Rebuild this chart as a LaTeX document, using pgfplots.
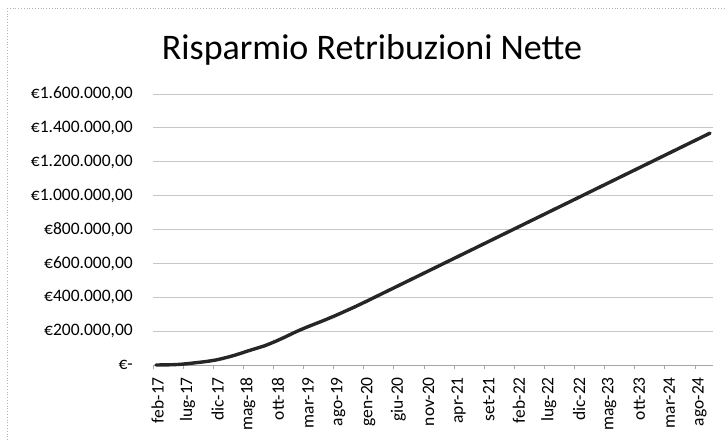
\documentclass[border=0pt]{standalone}
\usepackage{fontspec}
\setmainfont{Carlito}
\usepackage{pgfplots}
\pgfplotsset{compat=1.18}
\begin{document}
\begin{tikzpicture}[x=1pt,y=1pt]
\useasboundingbox (0,0) rectangle (726,440);
\draw[gray!60, line width=0.8pt, dotted] (7,432) -- (726,432);
\draw[gray!60, line width=0.8pt, dotted] (7,0) -- (7,432);
\node[anchor=base, font=\fontsize{36}{40}\selectfont] at (372,380) {Risparmio Retribuzioni Nette};
\begin{axis}[
  at={(153pt,75pt)}, anchor=south west,
  scale only axis, width=560pt, height=271pt,
  xmin=-0.5, xmax=92.5, ymin=0, ymax=1600000,
  axis x line*=bottom, axis y line*=left,
  y axis line style={draw=none},
  x axis line style={gray!70, line width=0.8pt},
  ytick={0,200000,400000,600000,800000,1000000,1200000,1400000,1600000},
  yticklabels={{€-\hspace{10pt}},{€200.000,00},{€400.000,00},{€600.000,00},{€800.000,00},{€1.000.000,00},{€1.200.000,00},{€1.400.000,00},{€1.600.000,00}},
  scaled y ticks=false,
  ymajorgrids, major grid style={gray!45, line width=0.8pt},
  ytick style={draw=none},
  yticklabel style={anchor=east, inner sep=0pt, xshift=-20pt, font=\fontsize{17.5}{20}\selectfont},
  xtick={0,5,...,90},
  xticklabels={feb-17,lug-17,dic-17,mag-18,ott-18,mar-19,ago-19,gen-20,giu-20,nov-20,apr-21,set-21,feb-22,lug-22,dic-22,mag-23,ott-23,mar-24,ago-24},
  xtick style={draw=none},
  xticklabel style={yshift=-12pt, xshift=1.5pt, rotate=90, anchor=east, inner sep=0pt, font=\fontsize{17.5}{20}\selectfont},
  extra x ticks={-0.5,4.5,...,89.5},
  extra x tick labels={},
  extra x tick style={xtick style={draw=gray!70, line width=0.8pt}, major tick length=4pt, tick align=outside, grid=none},
  clip=false,
]
\addplot[black!85, line width=3.4pt, line join=round, line cap=round] coordinates {
(0,0) (1,500) (2,1000) (3,2000) (4,4000) (5,7000) (6,11000) (7,15000) (8,19000) (9,24000)
(10,30000) (11,38000) (12,47000) (13,57000) (14,68000) (15,80000) (16,91000) (17,102000) (18,113000) (19,127000)
(20,142000) (21,158000) (22,175000) (23,192000) (24,208000) (25,223000) (26,237000) (27,251000) (28,265000) (29,280000)
(30,295000) (31,311000) (32,327000) (33,343000) (34,360000) (35,377000) (36,394400) (37,411800) (38,429200) (39,446600)
(40,464000) (41,481400) (42,498800) (43,516200) (44,533600) (45,551000) (46,568400) (47,585800) (48,603200) (49,620600)
(50,638000) (51,655400) (52,672800) (53,690200) (54,707600) (55,725000) (56,742400) (57,759800) (58,777200) (59,794600)
(60,812000) (61,829400) (62,846800) (63,864200) (64,881600) (65,899000) (66,916400) (67,933800) (68,951200) (69,968600)
(70,986000) (71,1003400) (72,1020800) (73,1038200) (74,1055600) (75,1073000) (76,1090400) (77,1107800) (78,1125200) (79,1142600)
(80,1160000) (81,1177400) (82,1194800) (83,1212200) (84,1229600) (85,1247000) (86,1264400) (87,1281800) (88,1299200) (89,1316600)
(90,1334000) (91,1351400) (92,1368800)
};
\end{axis}
\end{tikzpicture}
\end{document}
